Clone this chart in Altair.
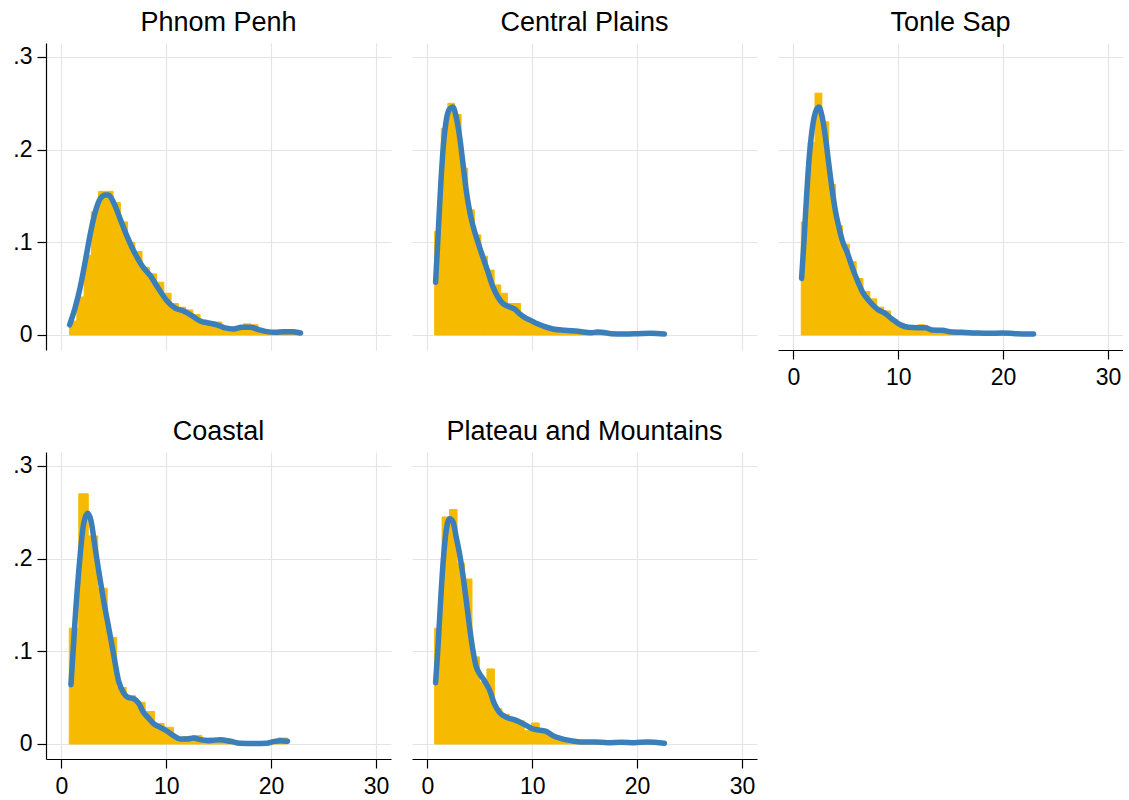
import altair as alt
import pandas as pd

FONT = "Liberation Sans"
BAR_COLOR = "#F6BB00"
LINE_COLOR = "#3A7EBA"

REGIONS = ["Phnom Penh", "Central Plains", "Tonle Sap", "Coastal", "Plateau and Mountains"]

# ---- histogram bins (start, width, densities) ----
pp_bin_start, pp_bin_width = 0.79, 0.691
pp_heights = [0.015, 0.041, 0.086, 0.133, 0.155, 0.155, 0.143, 0.122, 0.100, 0.090,
              0.073, 0.066, 0.057, 0.045, 0.034, 0.030, 0.027, 0.022, 0.016, 0.014,
              0.014, 0.009, 0.008, 0.008, 0.012, 0.011, 0.006, 0.004, 0.004, 0.005,
              0.004, 0.003]

cp_bin_start, cp_bin_width = 0.70, 0.630
cp_heights = [0.112, 0.223, 0.250, 0.238, 0.180, 0.135, 0.108, 0.085, 0.070, 0.054,
              0.045, 0.034, 0.034, 0.020, 0.0155, 0.012, 0.009, 0.008, 0.007, 0.006,
              0.005, 0.005, 0.005, 0.004, 0.003, 0.004, 0.003, 0.002, 0.002, 0.001,
              0.002, 0.003, 0.002, 0.002, 0.002]

ts_bin_start, ts_bin_width = 0.76, 0.654
ts_heights = [0.122, 0.208, 0.261, 0.230, 0.1625, 0.118, 0.098, 0.079, 0.061, 0.047,
              0.039, 0.030, 0.026, 0.017, 0.0126, 0.008, 0.008, 0.011, 0.008, 0.0065,
              0.0065, 0.0054, 0.004, 0.003, 0.003, 0.002, 0.002, 0.002, 0.002, 0.001,
              0.002, 0.001, 0.001, 0.001]

co_bin_start, co_bin_width = 0.76, 0.904
co_heights = [0.125, 0.270, 0.2245, 0.168, 0.115, 0.061, 0.052, 0.045, 0.035, 0.022,
              0.018, 0.007, 0.008, 0.009, 0.0065, 0.006, 0.0054, 0.0018, 0.0007, 0.0007,
              0.0005, 0.002, 0.0065]

pm_bin_start, pm_bin_width = 0.70, 0.7116
pm_heights = [0.125, 0.245, 0.253, 0.195, 0.178, 0.094, 0.067, 0.081, 0.038, 0.032,
              0.028, 0.025, 0.0144, 0.0227, 0.012, 0.0097, 0.006, 0.004, 0.003, 0.002,
              0.002, 0.002, 0.001, 0.002, 0.002, 0.001, 0.002, 0.002, 0.001, 0.002,
              0.002]

# ---- kernel density curves (x, density) ----
pp_kde_x = [0.79, 1.33, 1.81, 2.29, 2.76, 3.24, 3.71, 4.19, 4.5, 4.98, 5.62, 6.25, 6.89,
            7.68, 8.48, 9.27, 10.06, 10.86, 11.65, 12.44, 13.24, 14.03, 14.83, 15.62,
            16.41, 17.2, 18.0, 18.8, 19.6, 20.4, 21.2, 22.0, 22.8]
pp_kde_y = [0.011, 0.030, 0.052, 0.080, 0.109, 0.133, 0.147, 0.151, 0.151, 0.143, 0.125,
            0.107, 0.091, 0.075, 0.064, 0.050, 0.037, 0.029, 0.026, 0.021, 0.015, 0.013,
            0.011, 0.0076, 0.0065, 0.0083, 0.0083, 0.0058, 0.0036, 0.0029, 0.0036,
            0.0036, 0.0022]

cp_kde_x = [0.79, 1.02, 1.27, 1.52, 1.81, 2.13, 2.44, 2.76, 3.08, 3.40, 3.71, 4.03, 4.35,
            4.83, 5.30, 5.78, 6.25, 6.73, 7.21, 7.68, 8.32, 8.79, 9.27, 9.9, 10.5, 11.2,
            11.97, 13.1, 14.35, 15.6, 16.25, 17.0, 17.5, 18.8, 20.06, 21.3, 22.6]
cp_kde_y = [0.057, 0.106, 0.160, 0.203, 0.232, 0.244, 0.246, 0.235, 0.214, 0.185, 0.156,
            0.134, 0.118, 0.100, 0.084, 0.068, 0.052, 0.041, 0.034, 0.031, 0.028, 0.023,
            0.019, 0.0155, 0.012, 0.009, 0.0065, 0.005, 0.004, 0.0025, 0.0032, 0.0025,
            0.0014, 0.0011, 0.0014, 0.0018, 0.0011]

ts_kde_x = [0.79, 1.02, 1.24, 1.49, 1.81, 2.13, 2.44, 2.76, 3.08, 3.40, 3.71, 4.03, 4.35,
            4.67, 5.14, 5.62, 6.10, 6.57, 7.21, 8.0, 8.79, 9.43, 10.2, 11.0, 11.8, 12.6,
            13.2, 14.2, 15.1, 16.1, 17.4, 18.6, 19.9, 21.2, 22.9]
ts_kde_y = [0.061, 0.102, 0.145, 0.188, 0.223, 0.241, 0.246, 0.235, 0.212, 0.183, 0.156,
            0.133, 0.116, 0.102, 0.089, 0.073, 0.059, 0.047, 0.037, 0.028, 0.023, 0.017,
            0.011, 0.0083, 0.0079, 0.0079, 0.0054, 0.005, 0.0032, 0.0029, 0.0022, 0.0018,
            0.0022, 0.0014, 0.0011]

co_kde_x = [0.92, 1.33, 1.75, 2.13, 2.51, 2.83, 3.17, 3.56, 4.03, 4.51, 4.98, 5.46, 5.94,
            6.41, 6.89, 7.37, 7.84, 8.32, 8.79, 9.43, 10.06, 10.7, 11.33, 11.97, 12.6,
            13.24, 14.03, 15.14, 16.1, 17.05, 18.3, 19.6, 20.2, 20.9, 21.56]
co_kde_y = [0.064, 0.137, 0.198, 0.238, 0.249, 0.241, 0.216, 0.187, 0.155, 0.126, 0.097,
            0.068, 0.055, 0.050, 0.049, 0.044, 0.034, 0.028, 0.022, 0.018, 0.014, 0.009,
            0.0054, 0.0054, 0.0065, 0.0047, 0.0036, 0.0047, 0.0029, 0.0007, 0.0004,
            0.0007, 0.0025, 0.0036, 0.0029]

pm_kde_x = [0.79, 1.02, 1.27, 1.52, 1.81, 2.13, 2.44, 2.76, 3.08, 3.40, 3.71, 4.03, 4.35,
            4.67, 4.98, 5.46, 5.94, 6.41, 6.89, 7.52, 8.32, 8.95, 9.43, 9.9, 10.7, 11.33,
            11.97, 12.76, 13.7, 14.67, 15.94, 17.2, 18.5, 19.75, 21.0, 22.6]
pm_kde_y = [0.066, 0.105, 0.155, 0.198, 0.231, 0.243, 0.240, 0.223, 0.205, 0.182, 0.155,
            0.126, 0.101, 0.083, 0.076, 0.068, 0.058, 0.043, 0.034, 0.029, 0.026, 0.023,
            0.020, 0.017, 0.015, 0.0137, 0.009, 0.0058, 0.0036, 0.0022, 0.0022, 0.0014,
            0.0018, 0.0014, 0.0022, 0.0007]

X_TICKS = [0, 10, 20, 30]
Y_TICKS = [0, 0.1, 0.2, 0.3]
X_DOMAIN = [-1.46, 31.43]
Y_DOMAIN = [-0.0162, 0.3151]

PANEL_W, PANEL_H = 345, 307

panels = {
    "Phnom Penh": (pp_bin_start, pp_bin_width, pp_heights, pp_kde_x, pp_kde_y),
    "Central Plains": (cp_bin_start, cp_bin_width, cp_heights, cp_kde_x, cp_kde_y),
    "Tonle Sap": (ts_bin_start, ts_bin_width, ts_heights, ts_kde_x, ts_kde_y),
    "Coastal": (co_bin_start, co_bin_width, co_heights, co_kde_x, co_kde_y),
    "Plateau and Mountains": (pm_bin_start, pm_bin_width, pm_heights, pm_kde_x, pm_kde_y),
}


def x_axis(show):
    if show:
        return alt.Axis(values=X_TICKS, title=None, grid=True, labelFlush=False)
    return alt.Axis(values=X_TICKS, title=None, grid=True, labels=False, ticks=False,
                    domain=False)


def y_axis(show):
    if show:
        return alt.Axis(values=Y_TICKS, title=None, grid=True,
                        labelExpr="datum.value == 0 ? '0' : '.' + round(datum.value * 10)")
    return alt.Axis(values=Y_TICKS, title=None, grid=True, labels=False, ticks=False,
                    domain=False)


def panel(name, show_y, show_x):
    start, width, heights, kx, ky = panels[name]
    bars = pd.DataFrame({
        "x0": [start + i * width for i in range(len(heights))],
        "x1": [start + (i + 1) * width for i in range(len(heights))],
        "h": heights,
    })
    kde = pd.DataFrame({"kx": kx, "ky": ky})
    xs = alt.Scale(domain=X_DOMAIN, nice=False, zero=False)
    ys = alt.Scale(domain=Y_DOMAIN, nice=False, zero=False)
    b = alt.Chart(bars).mark_rect(color=BAR_COLOR, stroke=BAR_COLOR, strokeWidth=1).encode(
        x=alt.X("x0:Q", scale=xs, axis=x_axis(show_x)),
        x2="x1:Q",
        y=alt.Y("h:Q", scale=ys, axis=y_axis(show_y)),
        y2=alt.datum(0),
    )
    ln = alt.Chart(kde).mark_line(color=LINE_COLOR, strokeWidth=5.5, strokeCap="round",
                                  strokeJoin="round", interpolate="monotone").encode(
        x=alt.X("kx:Q", scale=xs, axis=x_axis(show_x)),
        y=alt.Y("ky:Q", scale=ys, axis=y_axis(show_y)),
    )
    return alt.layer(b, ln).properties(
        width=PANEL_W, height=PANEL_H,
        title=alt.TitleParams(text=name, fontSize=27, font=FONT, fontWeight="normal",
                              color="black", anchor="middle", offset=6),
    )


row1 = alt.hconcat(
    panel("Phnom Penh", True, False),
    panel("Central Plains", False, False),
    panel("Tonle Sap", False, True),
    spacing=21,
)
row2 = alt.hconcat(
    panel("Coastal", True, True),
    panel("Plateau and Mountains", False, True),
    spacing=21,
)

chart = alt.vconcat(row1, row2, spacing=29).properties(
    padding={"left": 12, "top": 9, "right": 0, "bottom": 0},
    background="white",
).configure_view(stroke=None).configure_axis(
    labelFont=FONT, labelFontSize=23, labelColor="black",
    domainColor="black", domainWidth=1.2,
    tickColor="black", tickWidth=1.2, tickSize=9,
    labelPadding=6,
    gridColor="#E4E4E4", gridWidth=1.2,
).configure_axisX(labelPadding=7).configure_axisY(labelPadding=5)

chart.save("out.html", embed_options={"renderer": "svg", "actions": False})
